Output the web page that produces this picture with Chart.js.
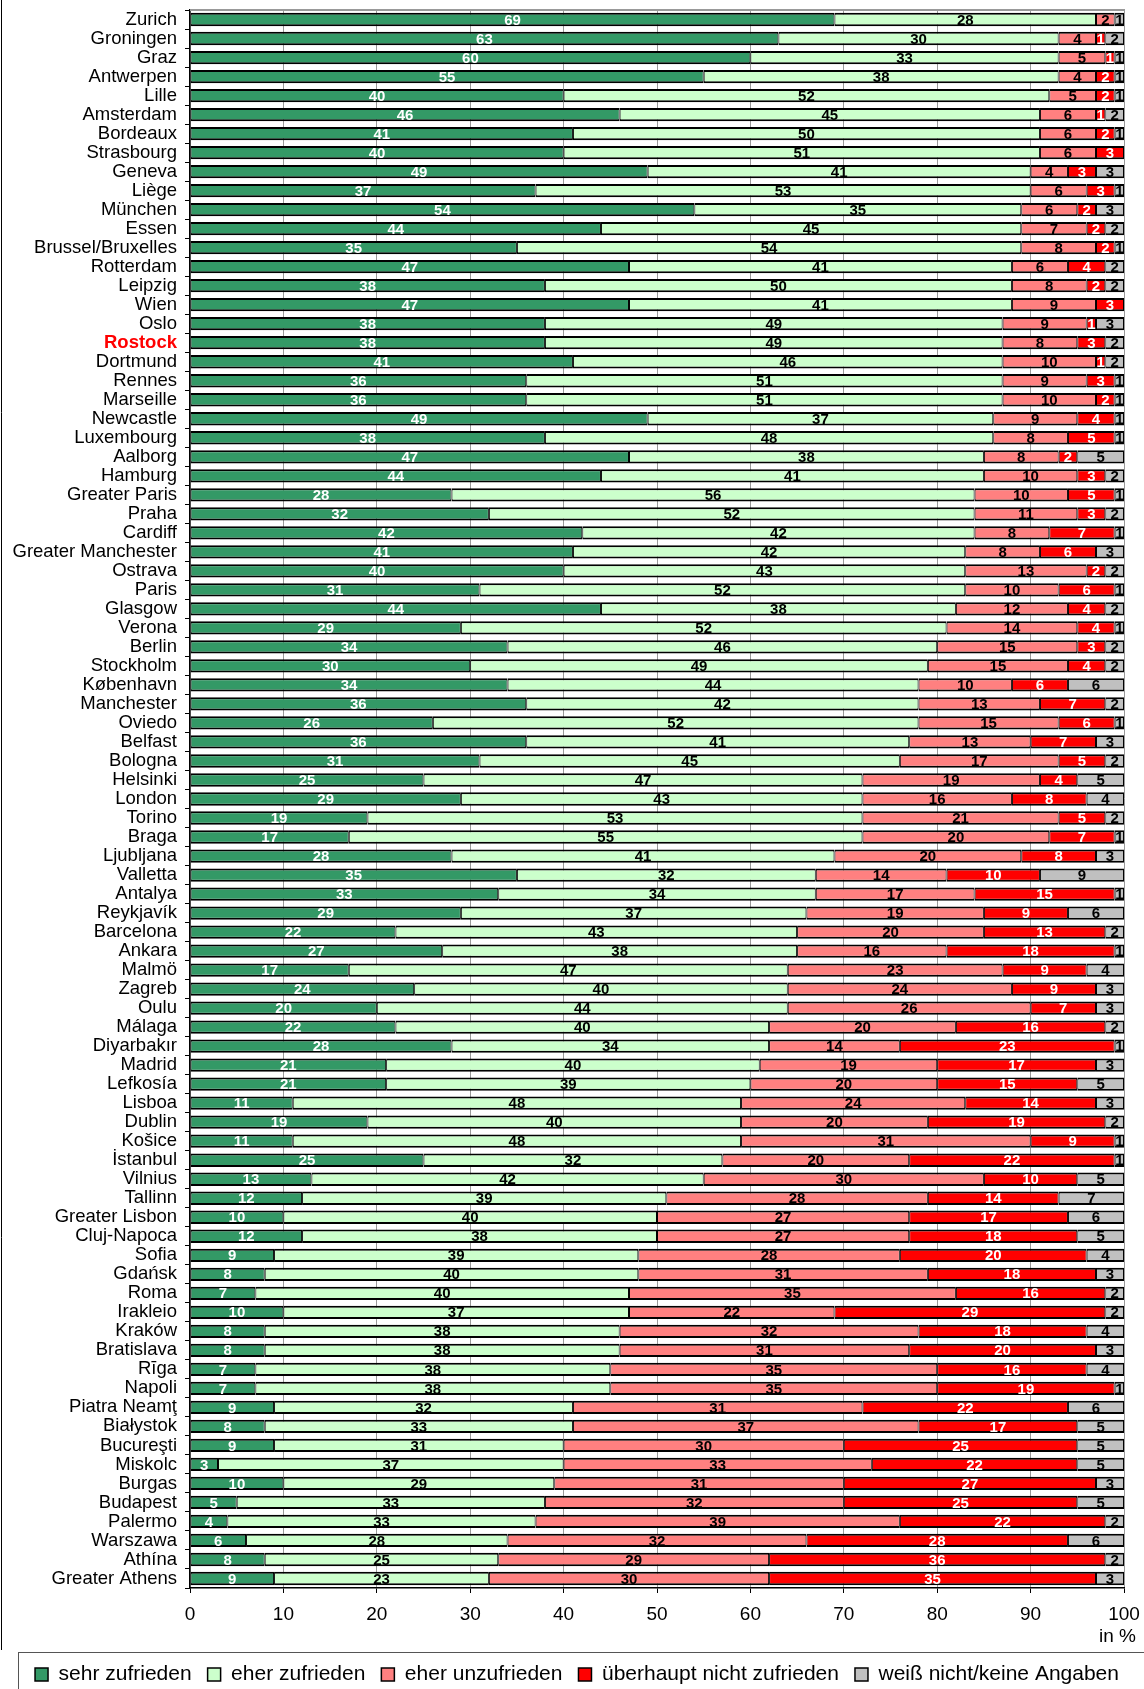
<!DOCTYPE html>
<html>
<head>
<meta charset="utf-8">
<script src="https://cdn.jsdelivr.net/npm/chart.js@4.4.0/dist/chart.umd.min.js"></script>
<style>
  html, body { margin: 0; padding: 0; background: #fff; }
  #wrap { width: 1144px; height: 1689px; position: relative; }
</style>
</head>
<body>
<div id="wrap"><canvas id="chart-cities"></canvas></div>
<script>
const CITIES = ['Zurich','Groningen','Graz','Antwerpen','Lille','Amsterdam','Bordeaux','Strasbourg','Geneva','Liège',
  'München','Essen','Brussel/Bruxelles','Rotterdam','Leipzig','Wien','Oslo','Rostock','Dortmund','Rennes',
  'Marseille','Newcastle','Luxembourg','Aalborg','Hamburg','Greater Paris','Praha','Cardiff','Greater Manchester','Ostrava',
  'Paris','Glasgow','Verona','Berlin','Stockholm','København','Manchester','Oviedo','Belfast','Bologna',
  'Helsinki','London','Torino','Braga','Ljubljana','Valletta','Antalya','Reykjavík','Barcelona','Ankara',
  'Malmö','Zagreb','Oulu','Málaga','Diyarbakır','Madrid','Lefkosía','Lisboa','Dublin','Košice',
  'İstanbul','Vilnius','Tallinn','Greater Lisbon','Cluj-Napoca','Sofia','Gdańsk','Roma','Irakleio','Kraków',
  'Bratislava','Rīga','Napoli','Piatra Neamţ','Białystok','Bucureşti','Miskolc','Burgas','Budapest','Palermo',
  'Warszawa','Athína','Greater Athens'];

const SEHR_ZUFRIEDEN = [69,63,60,55,40,46,41,40,49,37, 54,44,35,47,38,47,38,38,41,36, 36,49,38,47,44,28,32,42,41,40,
  31,44,29,34,30,34,36,26,36,31, 25,29,19,17,28,35,33,29,22,27, 17,24,20,22,28,21,21,11,19,11,
  25,13,12,10,12,9,8,7,10,8, 8,7,7,9,8,9,3,10,5,4, 6,8,9];

const EHER_ZUFRIEDEN = [28,30,33,38,52,45,50,51,41,53, 35,45,54,41,50,41,49,49,46,51, 51,37,48,38,41,56,52,42,42,43,
  52,38,52,46,49,44,42,52,41,45, 47,43,53,55,41,32,34,37,43,38, 47,40,44,40,34,40,39,48,40,48,
  32,42,39,40,38,39,40,40,37,38, 38,38,38,32,33,31,37,29,33,33, 28,25,23];

const EHER_UNZUFRIEDEN = [2,4,5,4,5,6,6,6,4,6, 6,7,8,6,8,9,9,8,10,9, 10,9,8,8,10,10,11,8,8,13,
  10,12,14,15,15,10,13,15,13,17, 19,16,21,20,20,14,17,19,20,16, 23,24,26,20,14,19,20,24,20,31,
  20,30,28,27,27,28,31,35,22,32, 31,35,35,31,37,30,33,31,32,39, 32,29,30];

const UEBERHAUPT_NICHT = [null,1,1,2,2,1,2,3,3,3, 2,2,2,4,2,3,1,3,1,3, 2,4,5,2,3,5,3,7,6,2,
  6,4,4,3,4,6,7,6,7,5, 4,8,5,7,8,10,15,9,13,18, 9,9,7,16,23,17,15,14,19,9,
  22,10,14,17,18,20,18,16,29,18, 20,16,19,22,17,25,22,27,25,22, 28,36,35];

const WEISS_NICHT = [1,2,1,1,1,2,1,null,3,1, 3,2,1,2,2,null,3,2,2,1, 1,1,1,5,2,1,2,1,3,2,
  1,2,1,2,2,6,2,1,3,2, 5,4,2,1,3,9,1,6,2,1, 4,3,3,2,1,3,5,3,2,1,
  1,5,7,6,5,4,3,2,2,4, 3,4,1,6,5,5,5,3,5,2, 6,2,3];

const X_TICKS = [0,10,20,30,40,50,60,70,80,90,100];
const HIGHLIGHT = 'Rostock';

const FONT = '"Liberation Sans", Arial, sans-serif';

// white numbers on the dark segments, black on the light ones
const segmentLabels = {
  id: 'segmentLabels',
  afterDatasetsDraw(chart) {
    const ctx = chart.ctx;
    ctx.save();
    ctx.font = 'bold 15px ' + FONT;
    ctx.textAlign = 'center';
    ctx.textBaseline = 'middle';
    chart.data.datasets.forEach((ds, i) => {
      const meta = chart.getDatasetMeta(i);
      meta.data.forEach((bar, j) => {
        const v = ds.data[j];
        if (!v) return;
        const p = bar.getProps(['x', 'y', 'base'], true);
        ctx.fillStyle = ds.labelColor;
        ctx.fillText(String(v), (p.x + p.base) / 2, p.y + 1);
      });
    });
    ctx.restore();
  }
};

const frame = {
  id: 'frame',
  beforeDatasetsDraw(chart) {
    const {ctx, chartArea} = chart;
    ctx.save();
    ctx.strokeStyle = '#999';
    ctx.lineWidth = 2;
    ctx.beginPath();
    ctx.moveTo(chartArea.left, chartArea.top);
    ctx.lineTo(chartArea.right + 1, chartArea.top);
    ctx.stroke();
    ctx.restore();
  },
  afterDraw(chart) {
    const {ctx} = chart;
    ctx.save();
    ctx.fillStyle = '#000';
    ctx.font = '19px ' + FONT;
    ctx.textAlign = 'right';
    ctx.textBaseline = 'middle';
    ctx.fillText('in %', 1136, 1637);
    ctx.strokeStyle = '#000';
    ctx.lineWidth = 1;
    ctx.beginPath();
    ctx.moveTo(1.5, 0);
    ctx.lineTo(1.5, 1650);
    ctx.stroke();
    ctx.strokeStyle = '#555';
    ctx.strokeRect(18.5, 1652.5, 1140, 60);
    ctx.restore();
  }
};

function dataset(label, data, color, labelColor) {
  return {
    label: label,
    data: data,
    backgroundColor: color,
    borderColor: '#000',
    borderWidth: { top: 2, bottom: 2, left: 1, right: 1 },
    borderSkipped: false,
    barPercentage: 0.7,
    categoryPercentage: 1,
    labelColor: labelColor
  };
}

const data = {
  labels: CITIES,
  datasets: [
    dataset('sehr zufrieden', SEHR_ZUFRIEDEN, '#339966', '#fff'),
    dataset('eher zufrieden', EHER_ZUFRIEDEN, '#CCFFCC', '#000'),
    dataset('eher unzufrieden', EHER_UNZUFRIEDEN, '#FF8080', '#000'),
    dataset('überhaupt nicht zufrieden', UEBERHAUPT_NICHT, '#FF0000', '#fff'),
    dataset('weiß nicht/keine Angaben', WEISS_NICHT, '#C0C0C0', '#000')
  ]
};

const config = {
  type: 'bar',
  data: data,
  plugins: [frame, segmentLabels],
  options: {
    indexAxis: 'y',
    responsive: true,
    maintainAspectRatio: false,
    animation: false,
    layout: { padding: { top: 10, right: 0, bottom: -6, left: 10 } },
    plugins: {
      tooltip: { enabled: false },
      legend: {
        position: 'bottom',
        labels: {
          color: '#000',
          font: { family: FONT, size: 21 },
          boxWidth: 13,
          boxHeight: 13,
          padding: 16
        }
      }
    },
    scales: {
      x: {
        stacked: true,
        min: 0,
        max: 100,
        afterBuildTicks(scale) {
          scale.ticks = X_TICKS.map(v => ({ value: v }));
        },
        afterFit(scale) {
          scale.height = 60;
          scale.paddingRight = 20;
        },
        grid: { color: '#999', lineWidth: 1, tickLength: 5, tickColor: '#000' },
        border: { color: '#000', width: 1.5 },
        ticks: { color: '#000', padding: 10, font: { family: FONT, size: 19 } }
      },
      y: {
        stacked: true,
        afterFit(scale) {
          scale.width = 180;
          scale.paddingTop = 0;
          scale.paddingBottom = 0;
        },
        grid: { drawOnChartArea: false, offset: true, tickLength: 5, tickColor: '#000' },
        border: { color: '#000', width: 1.5 },
        ticks: {
          autoSkip: false,
          padding: 8,
          color: c => CITIES[c.index] === HIGHLIGHT ? '#FF0000' : '#000',
          font: c => ({ family: FONT, size: 18.5, weight: CITIES[c.index] === HIGHLIGHT ? 'bold' : 'normal' })
        }
      }
    }
  }
};

new Chart(document.getElementById('chart-cities'), config);
</script>
</body>
</html>
